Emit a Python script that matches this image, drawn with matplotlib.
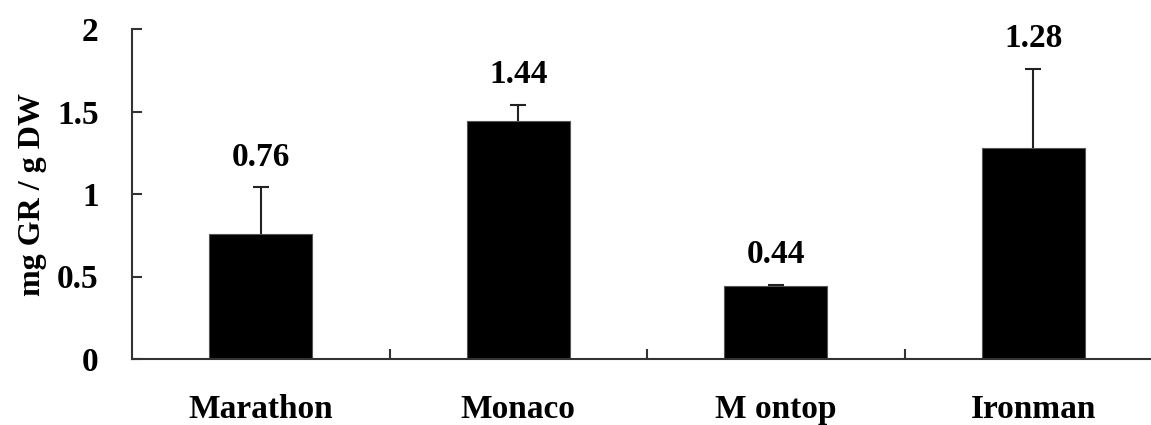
import matplotlib
matplotlib.use("Agg")
import matplotlib.pyplot as plt
import numpy as np

categories = ["Marathon", "Monaco", "M ontop", "Ironman"]
values = [0.76, 1.44, 0.44, 1.28]
errors = [0.28, 0.10, 0.01, 0.48]
labels = ["0.76", "1.44", "0.44", "1.28"]
yticks = [0, 0.5, 1, 1.5, 2]
ytick_labels = ["0", "0.5", "1", "1.5", "2"]

plt.rcParams['font.family'] = ['Liberation Serif', 'DejaVu Serif']
plt.rcParams['font.weight'] = 'bold'

fig = plt.figure(figsize=(11.51, 4.25), dpi=100)
ax = fig.add_axes([132/1151, 1-359/425, 1-132/1151, (359-29)/425])

x = np.arange(len(categories))
ax.bar(x, values, width=0.4, color='black', edgecolor='#555555', linewidth=0.8, zorder=2)
eb = ax.errorbar(x, values, yerr=[np.zeros(len(values)), errors], fmt='none',
                 ecolor='#222222', elinewidth=1.5, capsize=6, capthick=1.5, zorder=3)
caps = eb[1]
if len(caps) == 2:
    caps[0].set_visible(False)
for xi, v, e, lab in zip(x, values, errors, labels):
    ax.text(xi, v + e + 0.09, lab, ha='center', va='bottom', fontsize=24, fontweight='bold')

ax.set_ylim(0, 2)
ax.set_xlim(-0.5, -0.5 + (1151-132)/257.5)
ax.set_yticks(yticks)
ax.set_yticklabels(ytick_labels, fontsize=24, fontweight='bold')
ax.set_xticks(x)
ax.set_xticklabels(categories, fontsize=24, fontweight='bold')
ax.tick_params(axis='x', length=0, pad=25)
ax.set_xticks(np.arange(0.5, 3.5, 1), minor=True)
ax.tick_params(axis='x', which='minor', direction='in', length=7, width=1.5, color='#333333')
ax.tick_params(axis='y', direction='in', length=7, width=1.5, color='#333333', pad=24)

for s in ['top', 'right']:
    ax.spines[s].set_visible(False)
for s in ['left', 'bottom']:
    ax.spines[s].set_linewidth(1.5)
    ax.spines[s].set_color('#333333')

ax.set_ylabel("mg GR / g DW", fontsize=23, fontweight='bold')
ax.yaxis.set_label_coords(-(132-47)/1019, 0.5)

fig.savefig("out.png", dpi=100)
